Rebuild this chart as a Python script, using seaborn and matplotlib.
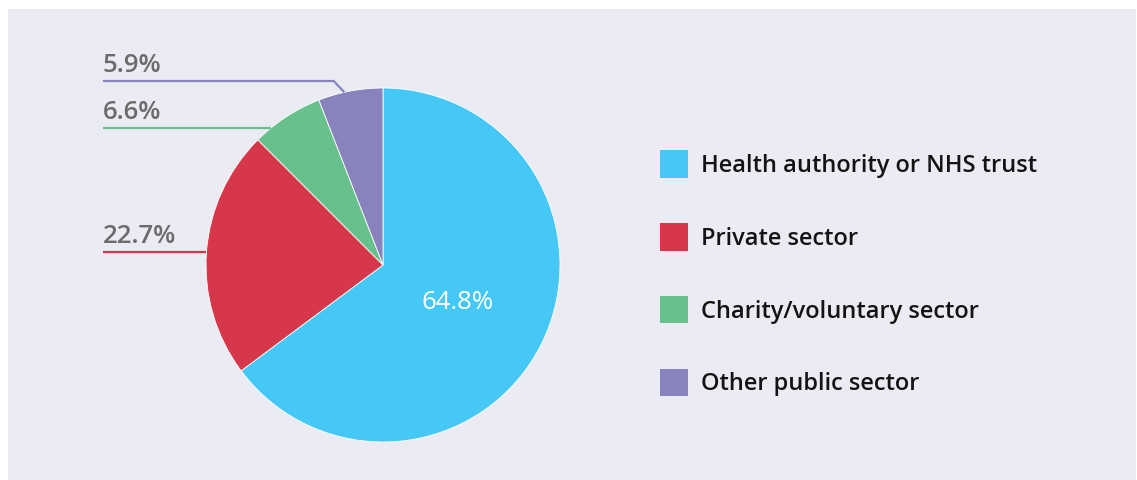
import numpy as np
import matplotlib
matplotlib.use("Agg")
import matplotlib.pyplot as plt
from matplotlib.patches import Rectangle, Patch
import seaborn as sns

categories = ["Health authority or NHS trust", "Private sector",
              "Charity/voluntary sector", "Other public sector"]
values = [64.8, 22.7, 6.6, 5.9]
value_labels = ["64.8%", "22.7%", "6.6%", "5.9%"]
colors = ["#45C8F5", "#D6374A", "#68C18D", "#8882BD"]

sns.set_theme(style="white")
plt.rcParams["font.family"] = ["Open Sans", "DejaVu Sans"]

W, H = 1137, 480
fig = plt.figure(figsize=(W / 100, H / 100), dpi=100, facecolor="white")
fig.patches.append(Rectangle((8 / W, 0), 1 - 9 / W, 1 - 9 / H, transform=fig.transFigure,
                             facecolor="#EBEBF4", edgecolor="none", zorder=-10))

# pie axes: center (383,265) radius 177 in pixels
cx, cy, r = 383, 265, 177
ax = fig.add_axes([(cx - r) / W, (H - cy - r) / H, 2 * r / W, 2 * r / H])
ax.set_facecolor("none")
ax.set_zorder(5)
wedges, _ = ax.pie(values, colors=colors, startangle=90, counterclock=False,
                   radius=1, wedgeprops=dict(edgecolor="white", linewidth=0.6))
ax.set_xlim(-1, 1)
ax.set_ylim(-1, 1)
ax.set_aspect("equal")
ax.axis("off")

def px2data(x, y):
    return (x - cx) / r, (cy - y) / r

# inner label for the big slice
w0 = wedges[0]
mid0 = np.deg2rad((w0.theta1 + w0.theta2) / 2)
ax.text(0.47 * np.cos(mid0), 0.47 * np.sin(mid0), value_labels[0], color="white",
        fontsize=18.5, ha="center", va="center")

# outer labels: (wedge index, line y in px)
label_x = 103
line_specs = [(1, 252), (2, 128), (3, 81)]
for idx, ly in line_specs:
    w = wedges[idx]
    col = colors[idx]
    x0, y0 = px2data(label_x, ly)
    if abs(y0) < 1:
        xe = -np.sqrt(1 - y0 ** 2)
        xs, ys = [x0, xe], [y0, y0]
    else:
        mid = np.deg2rad((w.theta1 + w.theta2) / 2 + 2)
        ex, ey = np.cos(mid), np.sin(mid)
        xs, ys = [x0, ex - 0.06, ex], [y0, y0, ey]
    ax.plot(xs, ys, color=col, lw=1.6, clip_on=False, solid_capstyle="butt")
    tx, ty = px2data(label_x, ly - 3)
    ax.text(tx, ty, value_labels[idx], color="#6B6B6B", fontsize=18.5, fontweight="semibold",
            ha="left", va="bottom", clip_on=False)

handles = [Patch(facecolor=c, edgecolor="none") for c in colors]
leg = fig.legend(handles, categories, loc="upper left",
                 bbox_to_anchor=(651 / W, 1 - 141 / H), frameon=False,
                 prop=dict(size=17, weight="semibold"),
                 handlelength=1.15, handleheight=1.4,
                 handletextpad=0.55, labelspacing=1.92, borderaxespad=0)
for t in leg.get_texts():
    t.set_color("#141414")

fig.savefig("out.png", dpi=100, facecolor="white")
